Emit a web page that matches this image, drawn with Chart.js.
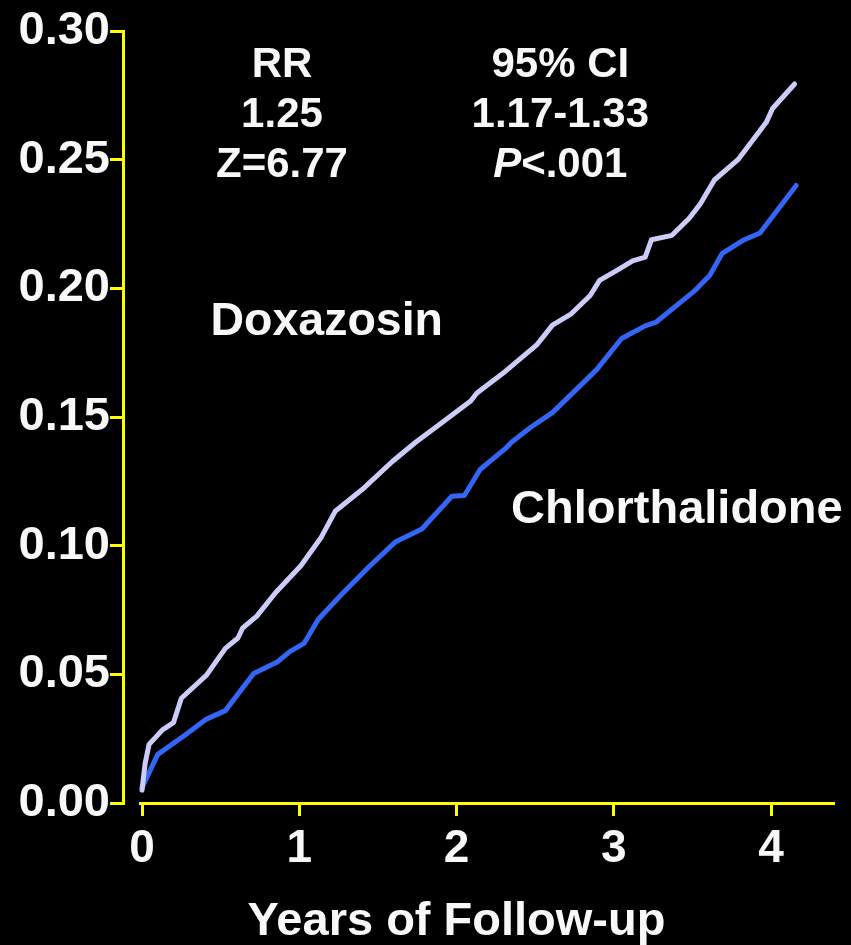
<!DOCTYPE html>
<html>
<head>
<meta charset="utf-8">
<title>Doxazosin vs Chlorthalidone</title>
<script src="https://cdn.jsdelivr.net/npm/chart.js@4.4.1/dist/chart.umd.min.js"></script>
<style>
  html, body { margin: 0; padding: 0; background: #000; }
  #wrap { width: 851px; height: 945px; }
</style>
</head>
<body>
<div id="wrap"><canvas id="myChart" width="851" height="945"></canvas></div>
<script>
// cumulative event rate (years of follow-up, rate)
var doxYears = [0.00, 0.02, 0.045, 0.13, 0.20, 0.25, 0.41, 0.53, 0.61, 0.64, 0.73, 0.85, 1.01, 1.14, 1.23, 1.40,
	1.59, 1.74, 1.90, 2.09, 2.13, 2.31, 2.51, 2.61, 2.73, 2.85, 2.91, 3.02, 3.12, 3.20, 3.24, 3.37,
	3.48, 3.55, 3.64, 3.79, 3.97, 4.01, 4.15];
var doxRate = [0.005, 0.0155, 0.0228, 0.0284, 0.0312, 0.0407, 0.0497, 0.0601, 0.0641, 0.0680, 0.0726, 0.0818, 0.0922, 0.1033, 0.1135, 0.1218,
	0.1326, 0.1402, 0.1475, 0.1562, 0.1593, 0.1677, 0.1780, 0.1857, 0.1901, 0.1972, 0.2031, 0.2070, 0.2107, 0.2121, 0.2189, 0.2206,
	0.2272, 0.2328, 0.2421, 0.2500, 0.2645, 0.2699, 0.2794];
var chlYears = [0.00, 0.10, 0.27, 0.41, 0.53, 0.71, 0.86, 0.94, 1.03, 1.12, 1.27, 1.44, 1.61, 1.78, 1.97, 2.05,
	2.15, 2.31, 2.35, 2.47, 2.61, 2.89, 3.05, 3.20, 3.27, 3.51, 3.61, 3.69, 3.83, 3.93, 4.16];
var chlRate = [0.006, 0.0189, 0.0262, 0.0326, 0.0359, 0.0503, 0.0548, 0.0588, 0.0620, 0.0713, 0.0811, 0.0916, 0.1014, 0.1065, 0.1192, 0.1195,
	0.1296, 0.1377, 0.1402, 0.1459, 0.1517, 0.1683, 0.1805, 0.1854, 0.1869, 0.1988, 0.2050, 0.2136, 0.2189, 0.2215, 0.2400];

var xTicks = [0, 1, 2, 3, 4];
var yTicks = [0, 0.05, 0.10, 0.15, 0.20, 0.25, 0.30];
var seriesNames = ["Doxazosin", "Chlorthalidone"];
var statsLeft = ["RR", "1.25", "Z=6.77"];
var statsRight = ["95% CI", "1.17-1.33", "P<.001"];
var xTitle = "Years of Follow-up";

var axisColor = "#ffff00";
var textColor = "#f8f8f8";
var family = "'Liberation Sans', Arial, Helvetica, sans-serif";

function toPoints(xs, ys) {
	return xs.map(function(x, i) { return { x: x, y: ys[i] }; });
}

function bold(size, italic) {
	return (italic ? "italic " : "") + "bold " + size + "px " + family;
}

// text block, series names and the offset x axis line
var decorations = {
	id: "decorations",
	afterDraw: function(chart) {
		var ctx = chart.ctx;
		var xs = chart.scales.x;
		var ys = chart.scales.y;
		var area = chart.chartArea;
		ctx.save();

		// x axis line leaves a small gap to the y axis
		ctx.strokeStyle = axisColor;
		ctx.lineWidth = 3;
		ctx.beginPath();
		ctx.moveTo(xs.getPixelForValue(xTicks[0]) - 3, area.bottom + 0.5);
		ctx.lineTo(area.right, area.bottom + 0.5);
		ctx.stroke();

		ctx.fillStyle = textColor;
		ctx.textBaseline = "alphabetic";

		// RR / CI block
		var top = ys.getPixelForValue(0.282);
		statsLeft.forEach(function(t, i) {
			ctx.font = bold(42);
			ctx.textAlign = "center";
			ctx.fillText(t, xs.getPixelForValue(0.89), top + i * 50);
		});
		statsRight.forEach(function(t, i) {
			var cx = xs.getPixelForValue(2.66);
			var y = top + i * 50;
			if (/^P</.test(t)) {
				// P in italics
				ctx.font = bold(42, true);
				var w1 = ctx.measureText("P").width;
				ctx.font = bold(42);
				var rest = t.slice(1);
				var w2 = ctx.measureText(rest).width;
				var x0 = cx - (w1 + w2) / 2;
				ctx.textAlign = "left";
				ctx.font = bold(42, true);
				ctx.fillText("P", x0, y);
				ctx.font = bold(42);
				ctx.fillText(rest, x0 + w1, y);
			} else {
				ctx.font = bold(42);
				ctx.textAlign = "center";
				ctx.fillText(t, cx, y);
			}
		});

		// series names
		ctx.textAlign = "left";
		ctx.font = bold(46.5);
		ctx.fillText(seriesNames[0], xs.getPixelForValue(0.435), ys.getPixelForValue(0.182));
		ctx.font = bold(47);
		ctx.fillText(seriesNames[1], xs.getPixelForValue(2.347), ys.getPixelForValue(0.109));

		// axis title
		ctx.font = bold(47);
		ctx.textAlign = "center";
		ctx.fillText(xTitle, xs.getPixelForValue(2), chart.height - 10);

		ctx.restore();
	}
};

var ctx = document.getElementById("myChart").getContext("2d");
var chart = new Chart(ctx, {
	type: "line",
	data: {
		datasets: [{
			label: seriesNames[0],
			data: toPoints(doxYears, doxRate),
			borderColor: "#ccccfa",
			borderWidth: 5,
			pointRadius: 0,
			tension: 0,
			borderCapStyle: "round",
			borderJoinStyle: "round"
		}, {
			label: seriesNames[1],
			data: toPoints(chlYears, chlRate),
			borderColor: "#3366f5",
			borderWidth: 5,
			pointRadius: 0,
			tension: 0,
			borderCapStyle: "round",
			borderJoinStyle: "round"
		}]
	},
	options: {
		responsive: false,
		animation: false,
		devicePixelRatio: 1,
		layout: { padding: { top: 31, right: 16, bottom: 0, left: 0 } },
		plugins: {
			legend: { display: false },
			tooltip: { enabled: false }
		},
		scales: {
			x: {
				type: "linear",
				min: -0.121,
				max: 4.407,
				afterBuildTicks: function(s) { s.ticks = xTicks.map(function(v) { return { value: v }; }); },
				afterFit: function(s) { s.height = 142; },
				ticks: {
					color: textColor,
					font: { family: family, size: 46, weight: "bold" },
					padding: 6,
					maxRotation: 0,
					callback: function(v) { return String(v); }
				},
				grid: { drawOnChartArea: false, drawTicks: true, tickLength: 13, color: axisColor, lineWidth: 3 },
				border: { display: false }
			},
			y: {
				type: "linear",
				min: 0,
				max: 0.30,
				afterBuildTicks: function(s) { s.ticks = yTicks.map(function(v) { return { value: v }; }); },
				afterFit: function(s) { s.width = 123; },
				ticks: {
					color: textColor,
					font: { family: family, size: 47, weight: "bold" },
					padding: 0,
					callback: function(v) { return Number(v).toFixed(2); }
				},
				grid: { drawOnChartArea: false, drawTicks: true, tickLength: 13, color: axisColor, lineWidth: 3 },
				border: { display: true, color: axisColor, width: 3 }
			}
		}
	},
	plugins: [decorations]
});
</script>
</body>
</html>
